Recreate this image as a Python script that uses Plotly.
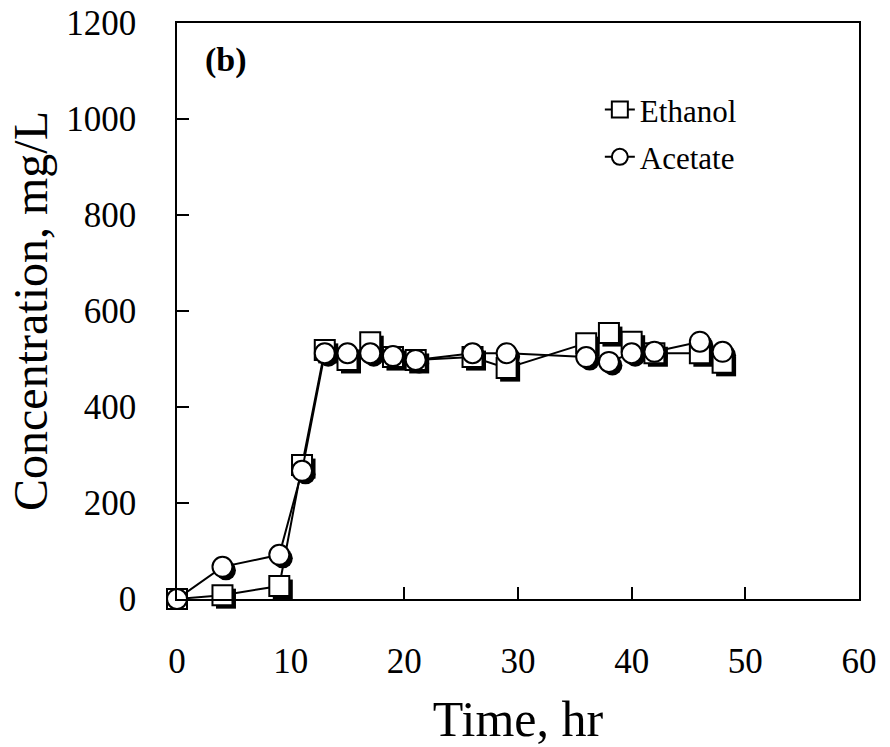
import plotly.graph_objects as go

time_hr = [0, 4, 9, 11, 13, 15, 17, 19, 21, 26, 29, 36, 38, 40, 42, 46, 48]
ethanol = [0, 8, 27, 279, 519, 498, 535, 504, 498, 504, 481, 533, 554, 536, 512, 512, 492]
acetate = [0, 67, 92, 267, 512, 512, 512, 506, 498, 512, 512, 504, 494, 512, 515, 536, 515]

x_ticks = [0, 10, 20, 30, 40, 50, 60]
y_ticks = [0, 200, 400, 600, 800, 1000, 1200]

FONT = "Liberation Serif"
ML, MR, MT, MB = 177, 31, 23, 148
W, H = 890, 747
pw = W - ML - MR
ph = H - MT - MB
xr = [0, 60]
yr = [0, 1200]
sx = 3.5 * (xr[1] - xr[0]) / pw
sy = 3.5 * (yr[1] - yr[0]) / ph

fig = go.Figure()
# drop shadows (base axes, shifted by a few pixels)
for name, vals, sym in [("Ethanol", ethanol, "square"), ("Acetate", acetate, "circle")]:
    fig.add_trace(go.Scatter(x=time_hr, y=vals, mode="markers", showlegend=False,
                             marker=dict(symbol=sym, size=20, color="black", line=dict(width=0)),
                             cliponaxis=False,
                             xaxis="x", yaxis="y", hoverinfo="skip"))
for name, vals, sym in [("Ethanol", ethanol, "square"), ("Acetate", acetate, "circle")]:
    fig.add_trace(go.Scatter(x=time_hr, y=vals, mode="lines+markers", name=name,
                             legendgroup=name, cliponaxis=False,
                             line=dict(color="black", width=2),
                             marker=dict(symbol=sym, size=20, color="white",
                                         line=dict(color="black", width=2)),
                             xaxis="x2", yaxis="y2"))

fig.update_layout(
    width=W, height=H,
    margin=dict(l=ML, r=MR, t=MT, b=MB, autoexpand=False),
    paper_bgcolor="white", plot_bgcolor="white",
    font=dict(family=FONT, color="black"),
    xaxis=dict(range=[xr[0] - sx, xr[1] - sx], visible=False, fixedrange=True),
    yaxis=dict(range=[yr[0] + sy, yr[1] + sy], visible=False, fixedrange=True),
    xaxis2=dict(overlaying="x", side="bottom", range=xr, tickvals=x_ticks,
                ticks="inside", ticklen=12, tickwidth=1.5, tickcolor="black",
                showline=True, linecolor="black", linewidth=1.5, mirror=True,
                showgrid=False, zeroline=False, automargin=False,
                tickfont=dict(size=35, family=FONT), ticklabelstandoff=30,
                title=dict(text="Time, hr", font=dict(size=50, family=FONT), standoff=25)),
    yaxis2=dict(overlaying="y", side="left", range=yr, tickvals=y_ticks,
                ticks="inside", ticklen=12, tickwidth=1.5, tickcolor="black",
                showline=True, linecolor="black", linewidth=1.5, mirror=True,
                showgrid=False, zeroline=False, automargin=False,
                tickfont=dict(size=35, family=FONT), ticklabelstandoff=32,
                title=dict(text="Concentration, mg/L", font=dict(size=48, family=FONT), standoff=3)),
    legend=dict(x=0.62, y=0.896, xanchor="left", yanchor="top",
                font=dict(size=31, family=FONT), bgcolor="rgba(0,0,0,0)",
                tracegroupgap=4, itemsizing="trace"),
    annotations=[dict(text="<b>(b)</b>", x=0.038, y=0.935, xref="paper", yref="paper",
                      xanchor="left", yanchor="middle", showarrow=False,
                      font=dict(size=34, family=FONT))],
)

fig.write_html("out.html")
